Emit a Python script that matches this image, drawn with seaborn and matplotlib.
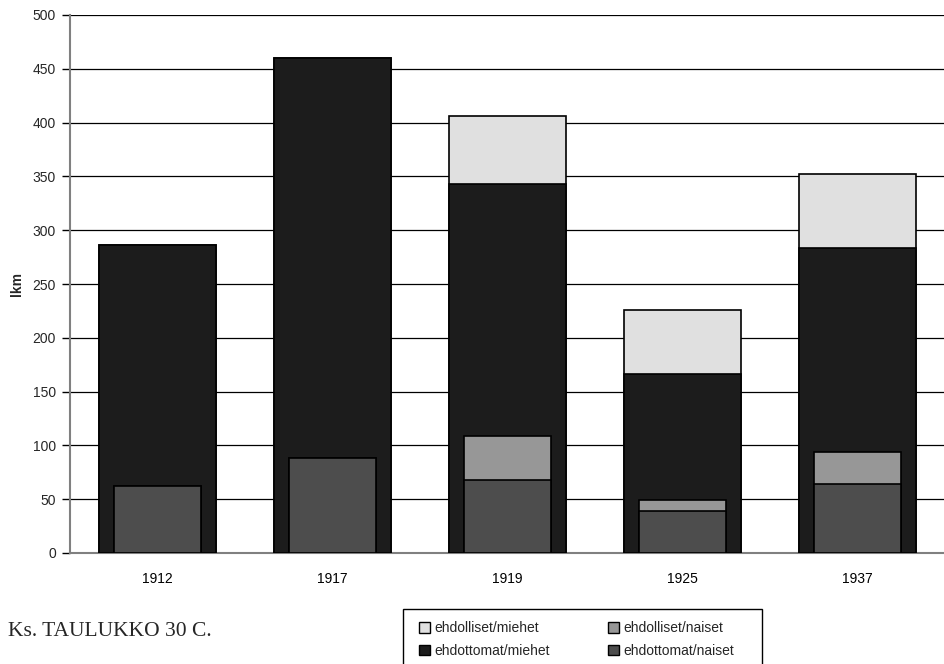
import matplotlib
matplotlib.use("Agg")
import matplotlib.pyplot as plt
import seaborn as sns
import pandas as pd
from matplotlib.patches import Patch, Rectangle

years = ["1912", "1917", "1919", "1925", "1937"]
men_uncond = [286, 460, 343, 166, 283]     # ehdottomat/miehet
men_cond = [0, 0, 63, 60, 69]              # ehdolliset/miehet
women_uncond = [62, 88, 68, 39, 64]        # ehdottomat/naiset
women_cond = [0, 0, 41, 10, 30]            # ehdolliset/naiset

df = pd.DataFrame({
    "year": years,
    "men_uncond": men_uncond,
    "men_total": [a + b for a, b in zip(men_uncond, men_cond)],
    "women_uncond": women_uncond,
    "women_total": [a + b for a, b in zip(women_uncond, women_cond)],
})

c_men_cond = "#e0e0e0"
c_men_unc = "#1c1c1c"
c_wom_cond = "#979797"
c_wom_unc = "#4d4d4d"

sns.set_theme(style="white")
plt.rcParams["font.family"] = ["Liberation Sans", "DejaVu Sans"]

W, H = 945, 664
fig = plt.figure(figsize=(W/100, H/100), dpi=100)
ax = fig.add_axes([70/W, 1-553/H, 1-70/W, (553-15)/H])

ekw = dict(edgecolor="black", linewidth=1.2, zorder=3)
sns.barplot(data=df, x="year", y="men_total", color=c_men_cond, width=0.67,
            saturation=1, ax=ax, **ekw)
sns.barplot(data=df, x="year", y="men_uncond", color=c_men_unc, width=0.67,
            saturation=1, ax=ax, **ekw)
sns.barplot(data=df, x="year", y="women_total", color=c_wom_cond, width=0.5,
            saturation=1, ax=ax, **ekw)
sns.barplot(data=df, x="year", y="women_uncond", color=c_wom_unc, width=0.5,
            saturation=1, ax=ax, **ekw)

ax.set_xlim(-0.5, 4.5)
ax.set_ylim(0, 500)
ax.set_yticks(range(0, 501, 50))
ax.yaxis.grid(True, color="black", linewidth=0.9, zorder=0)
ax.set_axisbelow(True)
ax.set_xlabel("")
ax.set_ylabel("lkm", fontsize=10, fontweight="bold", labelpad=6)

for s in ["top", "right"]:
    ax.spines[s].set_visible(False)
for s in ["left", "bottom"]:
    ax.spines[s].set_color("#808080")
    ax.spines[s].set_linewidth(1.5)

ax.set_xticks([i - 0.5 for i in range(6)], minor=True)
ax.tick_params(axis="x", which="major", length=0, pad=14, labelsize=10, colors="black")
ax.tick_params(axis="x", which="minor", length=10, direction="inout", color="#808080", width=1.2)
ax.tick_params(axis="y", which="major", length=6, direction="out", color="black",
               width=1, labelsize=10, pad=4, left=True)

fig.text(8/W, 1-632/H, "Ks. TAULUKKO 30 C.", fontsize=15.5,
         family=["Liberation Serif", "DejaVu Serif"], va="center", ha="left")

# legend frame
fig.patches.append(Rectangle((403/W, -0.01), (762-403)/W, (H-609)/H + 0.01,
                             transform=fig.transFigure, facecolor="white",
                             edgecolor="black", linewidth=1.0, zorder=1))

handles = [
    Patch(facecolor=c_men_cond, edgecolor="black", label="ehdolliset/miehet"),
    Patch(facecolor=c_men_unc, edgecolor="black", label="ehdottomat/miehet"),
    Patch(facecolor=c_wom_cond, edgecolor="black", label="ehdolliset/naiset"),
    Patch(facecolor=c_wom_unc, edgecolor="black", label="ehdottomat/naiset"),
]
leg = fig.legend(handles=handles, ncol=2, loc="upper left",
                 bbox_to_anchor=(415/W, 1-617/H), fontsize=10,
                 frameon=False,
                 handlelength=0.8, handleheight=0.8, handletextpad=0.3,
                 columnspacing=4.2, borderpad=0.3, labelspacing=0.62,
                 borderaxespad=0)
leg.set_zorder(2)

fig.savefig("out.png", dpi=100)
